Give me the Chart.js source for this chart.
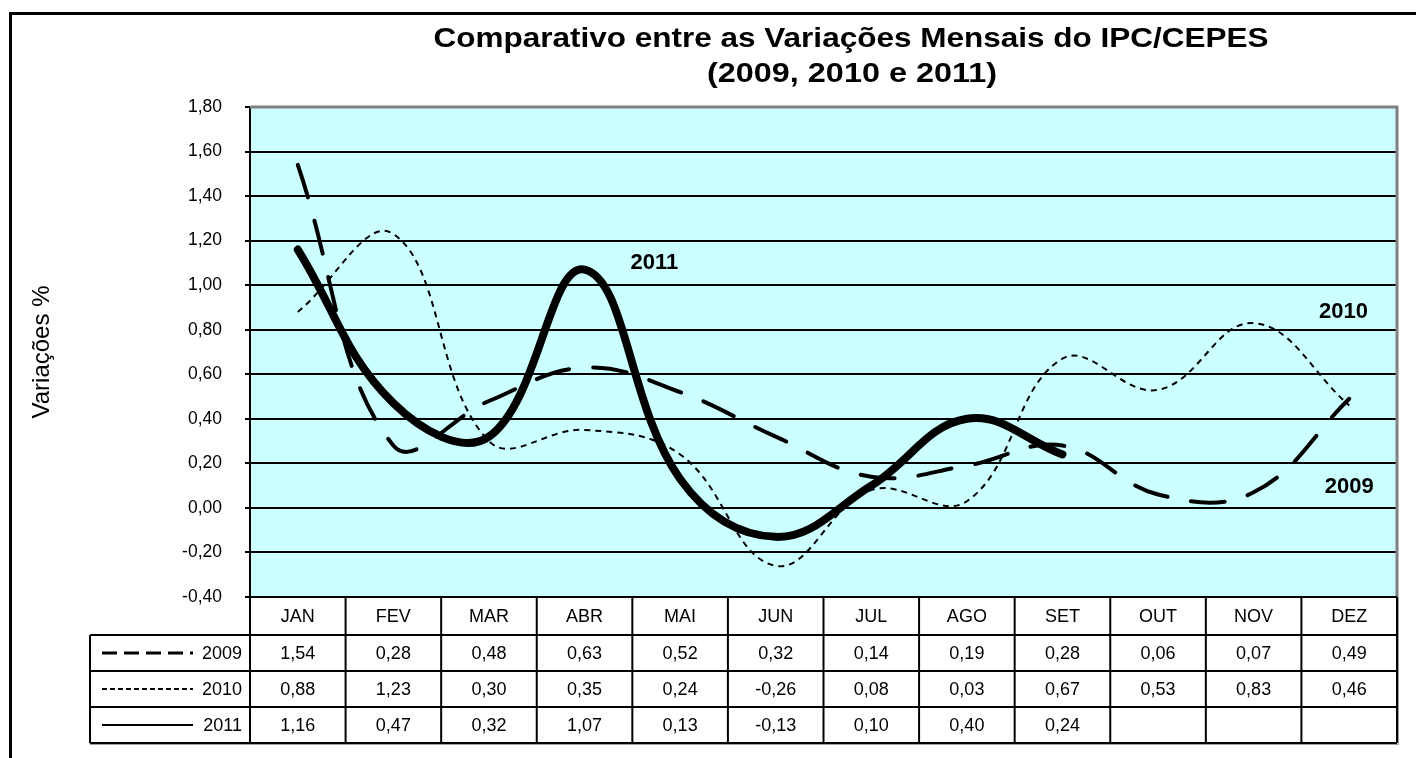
<!DOCTYPE html>
<html>
<head>
<meta charset="utf-8">
<title>IPC/CEPES</title>
<script src="https://cdn.jsdelivr.net/npm/chart.js@4.4.1/dist/chart.umd.min.js"></script>
<style>
    html, body { margin: 0; padding: 0; background: #fff; }
    #wrap { position: relative; width: 1416px; height: 758px; }
</style>
</head>
<body>
<div id="wrap"><canvas id="chart" width="1416" height="758"></canvas></div>
<script>
// data
const months = ['JAN', 'FEV', 'MAR', 'ABR', 'MAI', 'JUN', 'JUL', 'AGO', 'SET', 'OUT', 'NOV', 'DEZ'];
const seriesNames = ['2009', '2010', '2011'];
const values2009 = [1.54, 0.28, 0.48, 0.63, 0.52, 0.32, 0.14, 0.19, 0.28, 0.06, 0.07, 0.49];
const values2010 = [0.88, 1.23, 0.30, 0.35, 0.24, -0.26, 0.08, 0.03, 0.67, 0.53, 0.83, 0.46];
const values2011 = [1.16, 0.47, 0.32, 1.07, 0.13, -0.13, 0.10, 0.40, 0.24, null, null, null];
const yMin = -0.4;
const yMax = 1.8;
const yStep = 0.2;
const titleLines = ['Comparativo entre as Variações Mensais do IPC/CEPES', '(2009, 2010 e 2011)'];
const yAxisTitle = 'Variações %';

const FONT = "'Liberation Sans', Arial, sans-serif";

function fmt(v) {
    if (v == null) return '';
    if (Math.abs(v) < 1e-9) v = 0;
    return v.toFixed(2).replace('.', ',');
}

// legend swatches in the table's first column
const sampleDash = [[15, 7], [5, 3], []];
const sampleWidth = [3, 2, 2];

// year tags written next to the curves: [text, category index, y value]
const curveTags = [['2011', 3.73, 1.10], ['2010', 10.94, 0.88], ['2009', 11.0, 0.095]];

// Excel-ish wide bold text: draw then stretch to the wanted width
function stretchedText(ctx, text, cx, y, width) {
    const w = ctx.measureText(text).width;
    ctx.save();
    ctx.translate(cx, y);
    ctx.scale(width / w, 1);
    ctx.fillText(text, 0, 0);
    ctx.restore();
}

const framePlugin = {
    id: 'framePlugin',
    beforeDraw(chart) {
        const { ctx, chartArea: a } = chart;
        ctx.save();
        ctx.fillStyle = '#fff';
        ctx.fillRect(0, 0, chart.width, chart.height);
        ctx.fillStyle = '#ccffff';
        ctx.fillRect(a.left, a.top, a.right - a.left, a.bottom - a.top);
        // outer frame, only top and left edges are inside the picture
        ctx.strokeStyle = '#000';
        ctx.lineWidth = 3;
        ctx.beginPath();
        ctx.moveTo(10.5, chart.height);
        ctx.lineTo(10.5, 13.5);
        ctx.lineTo(chart.width, 13.5);
        ctx.stroke();
        ctx.restore();
    },
    beforeDatasetsDraw(chart) {
        const { ctx, chartArea: a } = chart;
        ctx.save();
        ctx.strokeStyle = '#808080';
        ctx.lineWidth = 3;
        ctx.beginPath();
        ctx.moveTo(a.left, a.top);
        ctx.lineTo(a.right, a.top);
        ctx.lineTo(a.right, a.bottom);
        ctx.stroke();
        ctx.restore();
    },
    afterDraw(chart) {
        const { ctx, chartArea: a } = chart;
        const xs = chart.scales.x;
        const ys = chart.scales.y;
        ctx.save();

        // title
        ctx.fillStyle = '#000';
        ctx.font = 'bold 27px ' + FONT;
        ctx.textAlign = 'center';
        ctx.textBaseline = 'alphabetic';
        stretchedText(ctx, titleLines[0], 851, 47, 835);
        stretchedText(ctx, titleLines[1], 852, 82, 290);

        // year tags
        ctx.font = 'bold 22px ' + FONT;
        ctx.textBaseline = 'middle';
        for (const [t, i, v] of curveTags) {
            ctx.fillText(t, xs.getPixelForValue(i), ys.getPixelForValue(v));
        }

        // data table
        const colW = (a.right - a.left) / months.length;
        const top = a.bottom;
        const headH = 38;
        const rowH = 36;
        const rowTop = top + headH;
        const series = [values2009, values2010, values2011];
        const bottom = rowTop + rowH * series.length;
        const legLeft = 90;

        ctx.strokeStyle = '#000';
        ctx.lineWidth = 2;
        ctx.beginPath();
        ctx.moveTo(a.left, top);
        ctx.lineTo(a.right, top);
        for (let r = 0; r <= series.length; r++) {
            ctx.moveTo(legLeft, rowTop + r * rowH);
            ctx.lineTo(a.right, rowTop + r * rowH);
        }
        for (let k = 0; k <= months.length; k++) {
            ctx.moveTo(a.left + k * colW, top);
            ctx.lineTo(a.left + k * colW, bottom);
        }
        ctx.moveTo(legLeft, rowTop);
        ctx.lineTo(legLeft, bottom);
        ctx.stroke();

        // faint grey shadow on the table's right edge
        ctx.strokeStyle = '#a0a0a0';
        ctx.lineWidth = 1;
        ctx.beginPath();
        ctx.moveTo(a.right + 1.5, top);
        ctx.lineTo(a.right + 1.5, bottom + 1.5);
        ctx.lineTo(legLeft, bottom + 1.5);
        ctx.stroke();

        ctx.font = '18px ' + FONT;
        ctx.textAlign = 'center';
        ctx.textBaseline = 'middle';
        months.forEach((m, i) => ctx.fillText(m, xs.getPixelForValue(i), top + headH / 2 + 1));
        series.forEach((vals, r) => {
            const cy = rowTop + r * rowH + rowH / 2 + 1;
            vals.forEach((v, i) => ctx.fillText(fmt(v), xs.getPixelForValue(i), cy));
        });

        // first column: swatch + series name
        ctx.textAlign = 'right';
        ctx.strokeStyle = '#000';
        seriesNames.forEach((name, r) => {
            const cy = rowTop + r * rowH + rowH / 2;
            ctx.fillText(name, a.left - 8, cy + 1);
            ctx.save();
            ctx.setLineDash(sampleDash[r]);
            ctx.lineWidth = sampleWidth[r];
            ctx.beginPath();
            ctx.moveTo(102, cy);
            ctx.lineTo(193, cy);
            ctx.stroke();
            ctx.restore();
        });

        ctx.restore();
    }
};

Chart.defaults.font.family = FONT;
Chart.defaults.color = '#000';

new Chart(document.getElementById('chart'), {
    type: 'line',
    data: {
        labels: months,
        datasets: [
            {
                label: seriesNames[0],
                data: values2009,
                borderColor: '#000',
                borderWidth: 4,
                borderDash: [34, 24],
                borderCapStyle: 'round',
                pointRadius: 0,
                tension: 0.4,
                fill: false,
                order: 3
            },
            {
                label: seriesNames[1],
                data: values2010,
                borderColor: '#000',
                borderWidth: 2,
                borderDash: [6, 5],
                pointRadius: 0,
                tension: 0.4,
                fill: false,
                order: 2
            },
            {
                label: seriesNames[2],
                data: values2011,
                borderColor: '#000',
                borderWidth: 8,
                borderCapStyle: 'round',
                borderJoinStyle: 'round',
                pointRadius: 0,
                tension: 0.4,
                fill: false,
                spanGaps: false,
                order: 1
            }
        ]
    },
    options: {
        responsive: false,
        animation: false,
        events: [],
        layout: { padding: { top: 107, right: 19, bottom: 161, left: 0 } },
        plugins: {
            legend: { display: false },
            title: { display: false },
            tooltip: { enabled: false }
        },
        scales: {
            x: {
                type: 'category',
                offset: true,
                display: false
            },
            y: {
                min: yMin,
                max: yMax,
                afterFit(scale) { scale.width = 250; },
                ticks: {
                    stepSize: yStep,
                    maxTicksLimit: 20,
                    padding: 23,
                    color: '#000',
                    font: { size: 17.5 },
                    callback(v) { return fmt(v); }
                },
                grid: {
                    color: '#000',
                    lineWidth: 2,
                    tickLength: 5,
                    tickColor: '#000'
                },
                border: { color: '#000', width: 2 },
                title: {
                    display: true,
                    text: yAxisTitle,
                    color: '#000',
                    font: { size: 24 },
                    padding: { top: 28, bottom: 0 }
                }
            }
        }
    },
    plugins: [framePlugin]
});
</script>
</body>
</html>
